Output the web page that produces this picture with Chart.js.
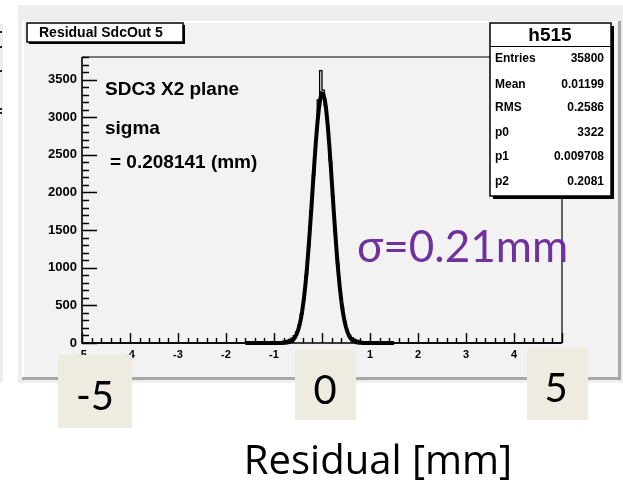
<!DOCTYPE html>
<html>
<head>
<meta charset="utf-8">
<script src="https://cdn.jsdelivr.net/npm/chart.js@4.4.1/dist/chart.umd.min.js"></script>
<style>
  html, body { margin: 0; padding: 0; background: #ffffff; }
  canvas { display: block; }
</style>
</head>
<body>
<canvas id="c" width="623" height="483"></canvas>
<script>
// Residual distribution of SDC3 X2 plane, 0.05 mm bins
const histStart = -1.5;   // lower edge of the first listed bin
const binWidth = 0.05;
const counts = [
  2, 1, 3, 2, 4, 5, 4, 7, 6, 9,
  11, 14, 17, 22, 28, 36, 48, 66, 98, 148,
  236, 380, 596, 902, 1290, 1745, 2230, 2700, 3230, 3620,
  3360, 3150, 2860, 2420, 1950, 1480, 1060, 720, 462, 285,
  170, 104, 70, 50, 38, 29, 22, 18, 14, 11,
  9, 7, 6, 5, 4, 3, 3, 2, 2, 1
];
const xRange = [-5, 5];
const yRange = [0, 3800];
const xTickValues = [-5, -4, -3, -2, -1, 0, 1, 2, 3, 4, 5];
const yTickValues = [0, 500, 1000, 1500, 2000, 2500, 3000, 3500];
const statLabels = ['Entries', 'Mean', 'RMS', 'p0', 'p1', 'p2'];
const statValues = ['35800', '0.01199', '0.2586', '3322', '0.009708', '0.2081'];
// Gaussian fit: constant, mean, sigma
const fitParams = [3322, 0.009708, 0.2081];
const fitRange = [-1.6, 1.5];
const bigLabels = ['-5', '0', '5'];

// histogram outline: every bin of the full range, empty outside the listed ones
const nBins = Math.round((xRange[1] - xRange[0]) / binWidth);
const firstIdx = Math.round((histStart - xRange[0]) / binWidth);
const histPoints = [{ x: xRange[0], y: 0 }];
for (let i = 0; i < nBins; i++) {
  const k = i - firstIdx;
  histPoints.push({ x: xRange[0] + (i + 0.5) * binWidth, y: (k >= 0 && k < counts.length) ? counts[k] : 0 });
}
histPoints.push({ x: xRange[1], y: 0 });

// fitted gaussian drawn as a polyline, 100 samples over the fit range
const fitPoints = [];
const npx = 100;
for (let i = 0; i < npx; i++) {
  const x = fitRange[0] + (fitRange[1] - fitRange[0]) * i / (npx - 1);
  const t = (x - fitParams[1]) / fitParams[2];
  fitPoints.push({ x: x, y: fitParams[0] * Math.exp(-0.5 * t * t) });
}

const ROOT_FONT = '"Liberation Sans", Arial, Helvetica, sans-serif';
const SLIDE_FONT = 'Lato, "Open Sans", sans-serif';
const CAPTION_FONT = '"Open Sans", Lato, sans-serif';

function boxWithShadow(ctx, x, y, w, h, sh) {
  ctx.fillStyle = '#000';
  ctx.fillRect(x + sh, y + sh, w, h);
  ctx.fillStyle = '#fff';
  ctx.fillRect(x, y, w, h);
  ctx.strokeStyle = '#000';
  ctx.lineWidth = 1.5;
  ctx.strokeRect(x, y, w, h);
}

const canvasDecor = {
  id: 'canvasDecor',
  beforeDraw(chart) {
    const ctx = chart.ctx;
    ctx.save();
    ctx.fillStyle = '#ffffff';
    ctx.fillRect(0, 0, chart.width, chart.height);
    // edge of the neighbouring panel
    ctx.fillStyle = '#ededed';
    ctx.fillRect(0, 24, 3, 359);
    ctx.fillStyle = '#222';
    [31, 46, 70, 108, 112].forEach(y => ctx.fillRect(0, y, 2, 2));
    // canvas background and raised pad
    ctx.fillStyle = '#eeeeee';
    ctx.fillRect(18, 5, 605, 378);
    ctx.fillStyle = '#f2f2f2';
    ctx.fillRect(22, 21, 599, 359);
    ctx.fillStyle = '#ffffff';
    ctx.fillRect(22, 21, 599, 2);
    ctx.fillRect(22, 21, 2, 359);
    ctx.fillStyle = '#a8a8a8';
    ctx.fillRect(22, 377, 599, 3);
    ctx.fillRect(618, 21, 3, 359);
    ctx.restore();
  },
  afterDatasetsDraw(chart) {
    const ctx = chart.ctx;
    const { left, right, top, bottom } = chart.chartArea;
    const xs = chart.scales.x, ys = chart.scales.y;
    ctx.save();
    ctx.strokeStyle = '#000';
    // frame
    ctx.lineWidth = 1.2;
    ctx.beginPath();
    ctx.moveTo(left, top); ctx.lineTo(right, top); ctx.lineTo(right, bottom);
    ctx.stroke();
    ctx.lineWidth = 1.6;
    ctx.beginPath();
    ctx.moveTo(left, top); ctx.lineTo(left, bottom); ctx.lineTo(right, bottom);
    ctx.stroke();
    // y ticks: major every 500, minor every 100
    ctx.lineWidth = 1.4;
    ctx.beginPath();
    for (let i = 0; i * 100 <= yRange[1]; i++) {
      const py = Math.round(ys.getPixelForValue(i * 100)) + 0.5;
      const len = (i % 5 === 0) ? 15 : 7;
      ctx.moveTo(left, py); ctx.lineTo(left + len, py);
    }
    ctx.stroke();
    // x ticks: major every 1, minor every 0.2
    ctx.beginPath();
    for (let i = 0; i <= 50; i++) {
      const px = Math.round(xs.getPixelForValue(xRange[0] + i * 0.2)) + 0.5;
      const len = (i % 5 === 0) ? 10 : 5;
      ctx.moveTo(px, bottom); ctx.lineTo(px, bottom - len);
    }
    ctx.stroke();
    ctx.restore();
  },
  afterDraw(chart) {
    const ctx = chart.ctx;
    ctx.save();
    // histogram title box
    boxWithShadow(ctx, 27, 23, 156, 19, 2);
    ctx.fillStyle = '#000';
    ctx.font = 'bold 14px ' + ROOT_FONT;
    ctx.textBaseline = 'middle';
    ctx.textAlign = 'left';
    ctx.fillText('Residual SdcOut 5', 39, 33);

    // statistics box
    boxWithShadow(ctx, 490, 23, 121, 173, 3);
    ctx.fillStyle = '#000';
    ctx.font = 'bold 19px ' + ROOT_FONT;
    ctx.textAlign = 'center';
    ctx.fillText('h515', 550, 36);
    ctx.beginPath();
    ctx.lineWidth = 1.2;
    ctx.moveTo(490, 46.5); ctx.lineTo(611, 46.5);
    ctx.stroke();
    ctx.font = 'bold 12px ' + ROOT_FONT;
    const rowY = [59, 85, 108, 133, 157, 182];
    statLabels.forEach((lab, i) => {
      ctx.textAlign = 'left';
      ctx.fillText(lab, 495, rowY[i]);
      ctx.textAlign = 'right';
      ctx.fillText(statValues[i], 604, rowY[i]);
    });

    // annotation inside the frame
    ctx.textAlign = 'left';
    ctx.textBaseline = 'alphabetic';
    ctx.font = 'bold 19px ' + ROOT_FONT;
    ctx.fillText('SDC3 X2 plane', 105, 95);
    ctx.fillText('sigma', 105, 134);
    ctx.fillText('= 0.208141 (mm)', 110, 168);

    ctx.fillStyle = '#7030a0';
    ctx.font = '44px ' + SLIDE_FONT;
    ctx.fillText('\u03c3=0.21mm', 357, 262);

    // enlarged axis labels on tiles
    const tiles = [
      { x: 58, y: 355, w: 74, h: 73, cx: 95, by: 410 },
      { x: 295, y: 350, w: 61, h: 70, cx: 325, by: 404 },
      { x: 527, y: 348, w: 61, h: 72, cx: 556, by: 402 }
    ];
    tiles.forEach((t, i) => {
      ctx.fillStyle = '#eeebe0';
      ctx.fillRect(t.x, t.y, t.w, t.h);
      ctx.fillStyle = '#000';
      ctx.font = '40px ' + SLIDE_FONT;
      ctx.textAlign = 'center';
      ctx.fillText(bigLabels[i], t.cx, t.by);
    });
    ctx.font = '40px ' + CAPTION_FONT;
    ctx.textAlign = 'center';
    ctx.fillText('Residual [mm]', 378, 474);
    ctx.restore();
  }
};

new Chart(document.getElementById('c'), {
  type: 'line',
  data: {
    datasets: [
      {
        label: 'h515',
        data: histPoints,
        borderColor: '#000',
        borderWidth: 1.3,
        stepped: 'middle',
        pointRadius: 0,
        fill: false,
        clip: false
      },
      {
        label: 'gaus fit',
        data: fitPoints,
        borderColor: '#000',
        borderWidth: 4,
        tension: 0,
        pointRadius: 0,
        fill: false,
        clip: false
      }
    ]
  },
  options: {
    responsive: false,
    devicePixelRatio: 1,
    animation: false,
    events: [],
    layout: { padding: { left: 42, top: 57, right: 61, bottom: 120 } },
    plugins: { legend: { display: false }, tooltip: { enabled: false }, title: { display: false } },
    scales: {
      x: {
        type: 'linear',
        min: xRange[0],
        max: xRange[1],
        afterBuildTicks: s => { s.ticks = xTickValues.map(v => ({ value: v })); },
        afterFit: s => { s.height = 20; },
        grid: { display: false, drawTicks: false },
        border: { display: false },
        ticks: {
          autoSkip: false,
          maxRotation: 0,
          padding: 5,
          color: '#000',
          font: { family: ROOT_FONT, size: 11, weight: 'bold' },
          callback: v => String(v)
        }
      },
      y: {
        type: 'linear',
        min: yRange[0],
        max: yRange[1],
        afterBuildTicks: s => { s.ticks = yTickValues.map(v => ({ value: v })); },
        afterFit: s => { s.width = 40; },
        grid: { display: false, drawTicks: false },
        border: { display: false },
        ticks: {
          autoSkip: false,
          padding: 5,
          color: '#000',
          font: { family: ROOT_FONT, size: 13, weight: 'bold' },
          callback: v => String(v)
        }
      }
    }
  },
  plugins: [canvasDecor]
});
</script>
</body>
</html>
